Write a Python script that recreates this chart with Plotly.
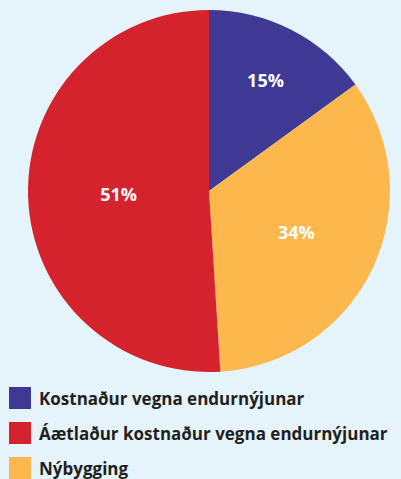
import plotly.graph_objects as go

labels = ["Kostnaður vegna endurnýjunar",
          "Áætlaður kostnaður vegna endurnýjunar",
          "Nýbygging"]
values = [15, 51, 34]
colors = ["#3f3996", "#d4232d", "#fdb84d"]

# slice order clockwise from 12 o'clock: purple, yellow, red
order = [0, 2, 1]

W, H = 401, 479
bg = "#e5f4fb"

fig = go.Figure()
fig.add_trace(go.Pie(
    labels=[labels[i] for i in order],
    values=[values[i] for i in order],
    marker=dict(colors=[colors[i] for i in order], line=dict(width=0)),
    sort=False,
    direction="clockwise",
    rotation=0,
    textinfo="percent",
    texttemplate="%{percent:.0%}",
    textposition="inside",
    insidetextorientation="horizontal",
    insidetextfont=dict(color="white", size=18, family="Open Sans", weight="bold"),
    showlegend=False,
    hoverinfo="skip",
    domain=dict(x=[(209 - 181) / W, (209 + 181) / W],
                y=[(H - 372) / H, (H - 10) / H]),
))

shapes = []
annotations = []
legend_top = [387, 422, 457]
for k, (lab, col) in enumerate(zip(labels, colors)):
    y0 = legend_top[k]
    shapes.append(dict(type="rect", xref="paper", yref="paper",
                       x0=9 / W, x1=31 / W,
                       y0=1 - (y0 + 22) / H, y1=1 - y0 / H,
                       fillcolor=col, line=dict(width=0)))
    annotations.append(dict(text=lab, xref="paper", yref="paper",
                            x=37 / W, y=1 - (y0 + 11) / H,
                            xanchor="left", yanchor="middle", showarrow=False,
                            font=dict(family="Open Sans", size=17, color="#231f20",
                                      weight="bold")))

fig.update_layout(
    width=W, height=H,
    margin=dict(l=0, r=0, t=0, b=0),
    paper_bgcolor=bg, plot_bgcolor=bg,
    shapes=shapes, annotations=annotations,
)
fig.write_html("out.html", config={"displayModeBar": False},
               post_script="document.body.style.margin='0';document.body.style.background='%s';" % bg)
